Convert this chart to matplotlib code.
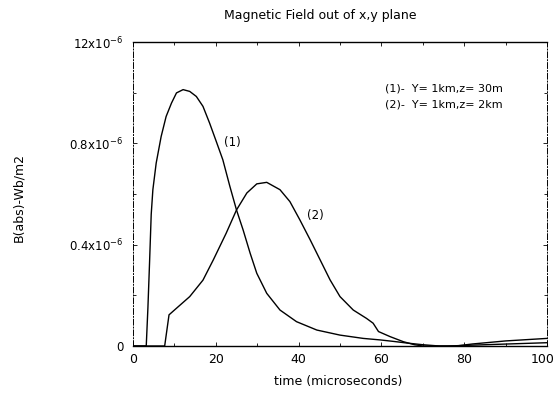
import matplotlib
matplotlib.use("Agg")
import matplotlib.pyplot as plt
import numpy as np

# Curve (1): Y=1km, z=30m  (time in microseconds, B in 1e-6 Wb/m2)
t1 = [0, 3.2, 3.6, 4.0, 4.4, 4.8, 5.6, 6.8, 8.0, 9.3, 10.5, 12.1, 13.7, 15.3, 16.9,
      18.5, 20.1, 21.7, 23.4, 25.0, 26.6, 28.3, 29.9, 32.3, 35.5, 39.5, 44.4, 50.0,
      55.6, 59.7, 63, 66, 70, 74, 78, 82, 90, 100]
b1 = [0, 0, 0.15, 0.33, 0.52, 0.617, 0.722, 0.827, 0.906, 0.959, 0.999, 1.012, 1.005,
      0.985, 0.946, 0.88, 0.808, 0.735, 0.63, 0.537, 0.458, 0.366, 0.287, 0.208, 0.142,
      0.096, 0.063, 0.043, 0.030, 0.024, 0.018, 0.012, 0.005, 0.0, 0.0, 0.008, 0.02, 0.03]

# Curve (2): Y=1km, z=2km
t2 = [0, 7.65, 8.7, 10.5, 13.7, 16.9, 19.4, 22.5, 25.0, 27.5, 29.9, 32.3, 35.5, 37.9,
      40.3, 42.8, 45.2, 47.6, 50.0, 53.2, 56.4, 58.0, 59.3, 62.1, 65.3, 68, 70, 76, 85, 100]
b2 = [0, 0, 0.123, 0.149, 0.195, 0.26, 0.34, 0.445, 0.537, 0.604, 0.64, 0.646, 0.617,
      0.57, 0.498, 0.419, 0.34, 0.261, 0.195, 0.142, 0.109, 0.09, 0.057, 0.037, 0.017,
      0.005, 0.0, 0.0, 0.005, 0.013]

xticks = [0, 20, 40, 60, 80, 100]
yticks = [0, 0.4, 0.8, 1.2]
ytick_labels = ["0", "0.4x10$^{-6}$", "0.8x10$^{-6}$", "12x10$^{-6}$"]

plt.rcParams['font.family'] = ['DejaVu Sans']
fig = plt.figure(figsize=(5.56, 3.93), dpi=100)
ax = fig.add_axes([133/556, 1 - 346/393, (547-133)/556, (346-42)/393])

ax.plot(t1, b1, color='black', lw=1.0)
ax.plot(t2, b2, color='black', lw=1.0)

ax.set_xlim(0, 100)
ax.set_ylim(0, 1.2)
ax.set_xticks(xticks)
ax.set_xticklabels([str(x) for x in xticks], fontsize=9)
ax.set_yticks(yticks)
ax.set_yticklabels(ytick_labels, fontsize=8.5)
ax.set_xticks(np.arange(0, 101, 10), minor=True)
ax.set_yticks(np.arange(0, 1.21, 0.2), minor=True)
ax.tick_params(which='both', direction='in', top=True, right=True, length=3, width=0.6)
ax.tick_params(axis='x', pad=5)
ax.tick_params(axis='y', pad=7)
ax.tick_params(which='minor', length=2)

# keep the last x tick label inside the figure
import matplotlib.transforms as mtransforms
last = ax.get_xticklabels()[-1]
last.set_transform(last.get_transform() + mtransforms.ScaledTranslation(-4/100, 0, fig.dpi_scale_trans))

for side in ['left', 'right']:
    ax.spines[side].set_linestyle((0, (6, 2, 1, 2)))
    ax.spines[side].set_linewidth(0.7)
ax.spines['top'].set_linewidth(1.0)
ax.spines['bottom'].set_linewidth(1.0)

ax.text(22.0, 0.79, "(1)", fontsize=8.5)
ax.text(42.0, 0.50, "(2)", fontsize=8.5)
ax.text(60.9, 1.005, "(1)-  Y= 1km,z= 30m", fontsize=8)
ax.text(60.9, 0.94, "(2)-  Y= 1km,z= 2km", fontsize=8)

fig.text(320/556, 1 - 15/393, "Magnetic Field out of x,y plane", fontsize=9, ha='center', va='center')
fig.text(338/556, 1 - 381/393, "time (microseconds)", fontsize=9, ha='center', va='center')
fig.text(19/556, 1 - 197/393, "B(abs)-Wb/m2", fontsize=9, ha='center', va='center', rotation=90)

fig.savefig("out.png", dpi=100, facecolor='white')
